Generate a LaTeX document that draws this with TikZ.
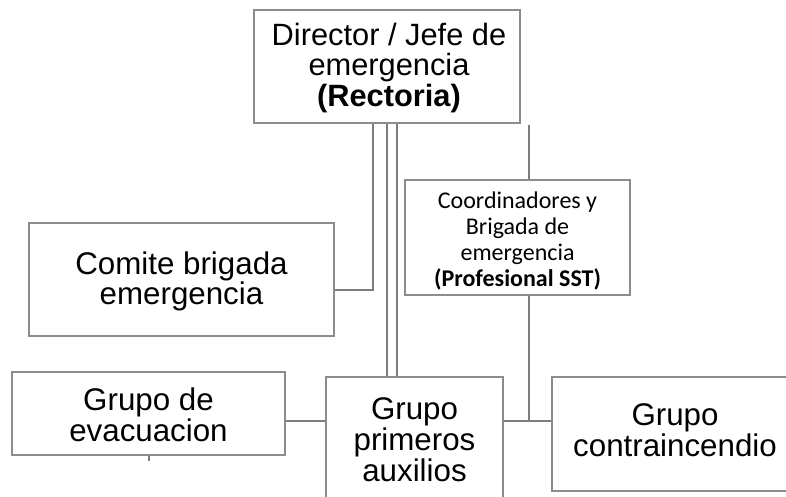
\documentclass[tikz,border=0pt]{standalone}
\usepackage{fontspec}
\setmainfont{Liberation Sans}
\newfontfamily\calibri{Carlito}
\definecolor{boxgray}{RGB}{140,140,140}
\definecolor{linegray}{RGB}{125,125,125}
\tikzset{
  box/.style={draw=boxgray, line width=1.2pt, rectangle, inner sep=0pt, fill=white},
  conn/.style={draw=linegray, line width=1.8pt},
  txt/.style={align=center, inner sep=0pt, text=black},
  bigfont/.style={font=\fontsize{30.8}{30.7}\selectfont},
  grpfont/.style={font=\fontsize{31.3}{30.8}\selectfont},
  smallfont/.style={font=\calibri\fontsize{24}{26}\selectfont}
}
\begin{document}
\begin{tikzpicture}[x=1pt,y=-1pt]
\useasboundingbox (0,0) rectangle (786,497);
\clip (0,0) rectangle (786,497);
\fill[white] (0,0) rectangle (786,497);

% boxes
\node[box, minimum width=266pt, minimum height=113pt] (dir) at (387,66.5) {};
\node[box, minimum width=305pt, minimum height=113pt] (com) at (181.5,279.5) {};
\node[box, minimum width=225pt, minimum height=115pt] (coord) at (517.5,237.5) {};
\node[box, minimum width=273pt, minimum height=83pt] (evac) at (148.5,413.5) {};
\node[box, minimum width=177pt, minimum height=125pt] (prim) at (414.5,439.5) {};
\node[box, minimum width=246pt, minimum height=114pt] (fire) at (675,434) {};

% texts
\node[txt, bigfont] (dirt) at (389,68) {Director / Jefe de\\emergencia\\\textbf{(Rectoria)}};
\node[txt, grpfont] (comt) at (181.5,281.5) {Comite brigada\\emergencia};
\node[txt, smallfont] (coordt) at (517.5,241) {Coordinadores y\\Brigada de\\emergencia\\\textbf{(Profesional SST)}};
\node[txt, grpfont] (evact) at (148.5,414.5) {Grupo de\\evacuacion};
\node[txt, grpfont] (primt) at (414.5,439.5) {Grupo\\primeros\\auxilios};
\node[txt, grpfont] (firet) at (675,430.5) {Grupo\\contraincendio};

% junction coordinates
\coordinate (comj) at (373,290);
\coordinate (dl1) at (387,0);
\coordinate (dl2) at (397,0);
\coordinate (rtop) at (529,125);
\coordinate (rj) at (529,421);
\coordinate (ej) at (0,421);
\coordinate (tick) at (149,461);

% connectors
\draw[conn] (dir.south -| comj) -- (comj) -- (comj -| com.east);
\draw[conn] (dir.south -| dl1) -- (prim.north -| dl1);
\draw[conn] (dir.south -| dl2) -- (prim.north -| dl2);
\draw[conn] (rtop) -- (coord.north -| rtop);
\draw[conn] (coord.south -| rj) -- (rj);
\draw[conn] (prim.east |- rj) -- (fire.west |- rj);
\draw[conn] (evac.east |- ej) -- (prim.west |- ej);
\draw[conn] (evac.south -| tick) -- (tick);
\end{tikzpicture}
\end{document}
